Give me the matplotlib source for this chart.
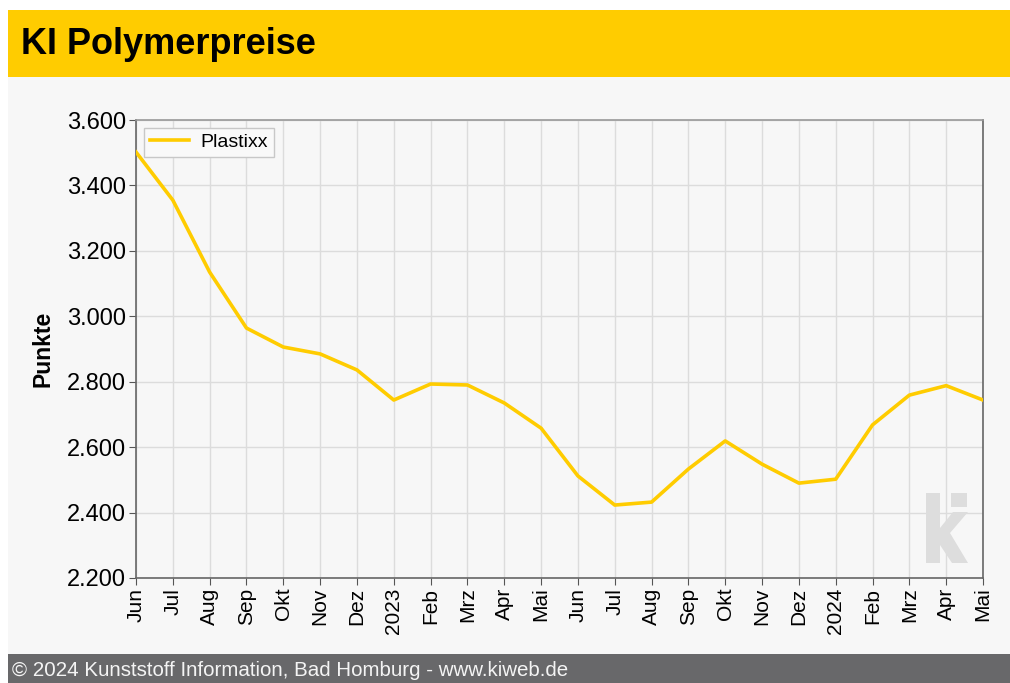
import matplotlib.pyplot as plt
import matplotlib.ticker as mticker
from matplotlib.patches import Rectangle, Polygon

plt.rcParams['font.family'] = ['Liberation Sans', 'DejaVu Sans']

# Monatswerte Plastixx (Jun 2022 - Mai 2024)
monate = ['Jun', 'Jul', 'Aug', 'Sep', 'Okt', 'Nov', 'Dez', '2023',
          'Feb', 'Mrz', 'Apr', 'Mai', 'Jun', 'Jul', 'Aug', 'Sep',
          'Okt', 'Nov', 'Dez', '2024', 'Feb', 'Mrz', 'Apr', 'Mai']
plastixx = [3502, 3355, 3135, 2964, 2906, 2885, 2836, 2744,
            2793, 2790, 2735, 2658, 2512, 2423, 2432, 2533,
            2619, 2548, 2490, 2502, 2668, 2759, 2788, 2744]
y_ticks = [2200, 2400, 2600, 2800, 3000, 3200, 3400, 3600]

gelb = '#FFCC00'
W, H = 1010, 683


def fx(px):
    return px / W


def fy(py):
    # Pixel von oben -> Figurkoordinate
    return 1 - py / H


fig = plt.figure(figsize=(W / 100, H / 100), dpi=100)
fig.patch.set_facecolor('#f7f7f7')

# Rahmen: weißer Rand oben/links, gelber Titelbalken, grauer Fußbalken
fig.add_artist(Rectangle((0, fy(10)), 1, 10 / H, transform=fig.transFigure,
                         facecolor='white', edgecolor='none'))
fig.add_artist(Rectangle((0, 0), fx(8), 1, transform=fig.transFigure,
                         facecolor='white', edgecolor='none'))
fig.add_artist(Rectangle((fx(8), fy(77)), 1, 67 / H, transform=fig.transFigure,
                         facecolor=gelb, edgecolor='none'))
fig.add_artist(Rectangle((fx(8), 0), 1, 29 / H, transform=fig.transFigure,
                         facecolor='#68686a', edgecolor='none'))
fig.text(fx(21), fy(44), 'KI Polymerpreise', fontsize=26, fontweight='bold',
         va='center', ha='left', color='black')
fig.text(fx(12), 12 / H, '© 2024 Kunststoff Information, Bad Homburg - www.kiweb.de',
         fontsize=14.8, color='#f4f4f4', va='center', ha='left')

ax = fig.add_axes([fx(136), fy(578), 847 / W, 458 / H])
ax.set_facecolor('#f7f7f7')

x = list(range(len(monate)))
ax.plot(x, plastixx, color=gelb, lw=2.6, label='Plastixx', zorder=3)

ax.set_xlim(0, len(monate) - 1)
ax.set_ylim(2200, 3600)
ax.set_xticks(x)
ax.set_xticklabels(monate, rotation=90, fontsize=15)
ax.set_yticks(y_ticks)
ax.yaxis.set_major_formatter(mticker.FuncFormatter(lambda v, p: f'{int(v):,}'.replace(',', '.')))
ax.tick_params(axis='y', labelsize=17, length=5, color='#555555', pad=2)
ax.tick_params(axis='x', length=5, color='#555555', pad=2)
ax.grid(True, color='#dcdcdc', lw=1)
ax.set_axisbelow(True)
for s in ax.spines.values():
    s.set_color('#666666')
    s.set_linewidth(1.2)
ax.spines['top'].set_color('#999999')

ax.set_ylabel('Punkte', fontsize=16.5, fontweight='bold', labelpad=9)

leg = ax.legend(loc='upper left', fontsize=14, fancybox=False, framealpha=1,
                edgecolor='#c8c8c8', facecolor='#f9f9f9', handlelength=2.0,
                handletextpad=0.6, borderaxespad=0.4, borderpad=0.3)
leg.get_frame().set_linewidth(1)

# Wasserzeichen "ki"
k_form = [(926, 493), (940, 493), (940, 528), (953, 512), (968, 512), (950, 533),
          (968, 563), (952, 563), (940, 545), (940, 563), (926, 563)]
fig.add_artist(Polygon([(fx(a), fy(b)) for a, b in k_form], closed=True,
                       transform=fig.transFigure, facecolor='#dddddd',
                       edgecolor='none', zorder=1.5))
fig.add_artist(Rectangle((fx(951), fy(507)), 16 / W, 14 / H, transform=fig.transFigure,
                         facecolor='#dddddd', edgecolor='none', zorder=1.5))

fig.savefig('out.png', dpi=100, facecolor=fig.get_facecolor())
